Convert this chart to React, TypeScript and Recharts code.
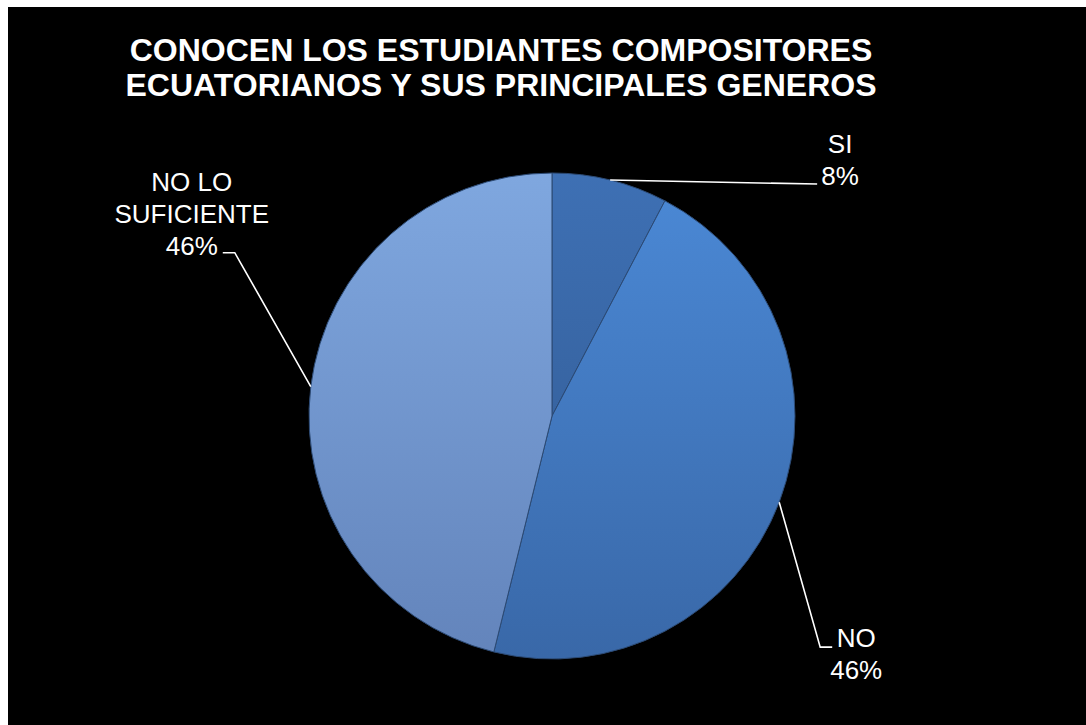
import React from "react";
import { PieChart, Pie, Cell } from "recharts";

// ---- data ----
const categories = ["SI", "NO", "NO LO SUFICIENTE"];
const counts = [3, 18, 18];
const titleLines = [
  "CONOCEN LOS ESTUDIANTES COMPOSITORES",
  "ECUATORIANOS Y SUS PRINCIPALES GENEROS",
];

const data = categories.map((name, i) => ({ name, value: counts[i] }));

// ---- styles / layout ----
const FONT = "'Liberation Sans', Arial, Helvetica, sans-serif";
const gradients = [
  { id: "gSI", top: "#3e70b4", bottom: "#30588f" },
  { id: "gNO", top: "#4b89d6", bottom: "#3968a8" },
  { id: "gNL", top: "#7fa7df", bottom: "#6384bb" },
];
// offsets relative to the slice's outer mid point
const labelLayout = [
  { elbow: [207, 4], end: [207, 4], text: [230, -36] },
  { elbow: [41, 145], end: [53, 145], text: [77, 136] },
  { elbow: [-76, -134], end: [-88, -134], text: [-119, -205] },
];

if (typeof document !== "undefined") {
  document.body.style.overflow = "hidden";
}

function wrap(name: string, max = 10): string[] {
  const words = name.split(" ");
  const lines: string[] = [];
  let cur = "";
  for (const w of words) {
    if (cur && (cur + " " + w).length > max) {
      lines.push(cur);
      cur = w;
    } else {
      cur = cur ? cur + " " + w : w;
    }
  }
  if (cur) lines.push(cur);
  return lines;
}

const RAD = Math.PI / 180;

const renderLabel = (props: any) => {
  const { cx, cy, midAngle, outerRadius, percent, index, name } = props;
  const x0 = cx + outerRadius * Math.cos(-midAngle * RAD);
  const y0 = cy + outerRadius * Math.sin(-midAngle * RAD);
  const lay = labelLayout[index];
  const lines = [...wrap(name), `${Math.round(percent * 100)}%`];
  const pts = `${x0},${y0} ${x0 + lay.elbow[0]},${y0 + lay.elbow[1]} ${x0 + lay.end[0]},${y0 + lay.end[1]}`;
  return (
    <g key={`lbl-${index}`}>
      <polyline points={pts} fill="none" stroke="#ffffff" strokeWidth={1.6} />
      {lines.map((t, i) => (
        <text
          key={i}
          x={x0 + lay.text[0]}
          y={y0 + lay.text[1] + i * 32}
          textAnchor="middle"
          dominantBaseline="central"
          fill="#ffffff"
          fontSize={26}
          fontFamily={FONT}
        >
          {t}
        </text>
      ))}
    </g>
  );
};

export default function App() {
  return (
    <div
      style={{
        position: "fixed",
        left: 8,
        top: 7,
        width: 1078,
        height: 718,
        background: "#000000",
        overflow: "hidden",
      }}
    >
      <PieChart width={1078} height={718} margin={{ top: 0, right: 0, bottom: 0, left: 0 }}>
        <defs>
          {gradients.map((g) => (
            <linearGradient key={g.id} id={g.id} gradientUnits="userSpaceOnUse" x1="0" y1="166" x2="0" y2="652">
              <stop offset="0%" stopColor={g.top} />
              <stop offset="100%" stopColor={g.bottom} />
            </linearGradient>
          ))}
        </defs>
        {titleLines.map((t, i) => (
          <text
            key={t}
            x={493}
            y={54 + i * 35}
            textAnchor="middle"
            fill="#ffffff"
            fontSize={32}
            fontWeight="bold"
            fontFamily={FONT}
          >
            {t}
          </text>
        ))}
        <Pie
          data={data}
          dataKey="value"
          nameKey="name"
          cx={544}
          cy={409}
          outerRadius={243}
          startAngle={90}
          endAngle={-270}
          stroke="#2c4a74"
          strokeWidth={1}
          label={renderLabel}
          labelLine={false}
          isAnimationActive={false}
        >
          {data.map((d, i) => (
            <Cell key={d.name} fill={`url(#${gradients[i].id})`} />
          ))}
        </Pie>
      </PieChart>
    </div>
  );
}
